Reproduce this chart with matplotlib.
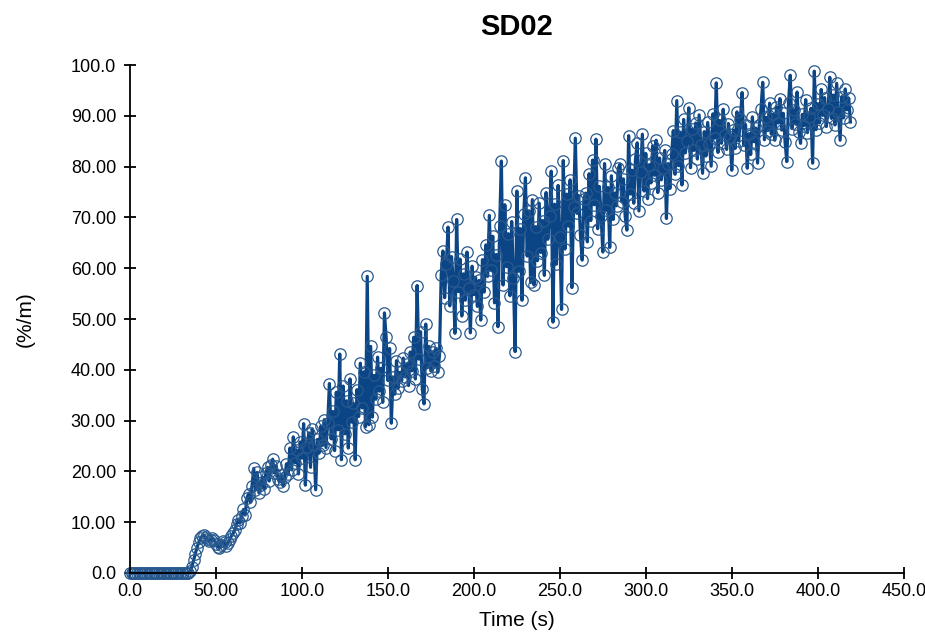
import matplotlib
matplotlib.use("Agg")
import matplotlib.pyplot as plt

# SD02 - values, one sample per second
time_s = list(range(0, 420))
sd02 = [
    0.0, 0.0, 0.0, 0.0, 0.0, 0.0, 0.0, 0.0, 0.0, 0.0,
    0.0, 0.0, 0.0, 0.0, 0.0, 0.0, 0.0, 0.0, 0.0, 0.0,
    0.0, 0.0, 0.0, 0.0, 0.0, 0.0, 0.0, 0.0, 0.0, 0.0,
    0.0, 0.0, 0.0, 0.0, 0.0,
    0.3, 1.2, 2.5, 3.8, 5.0, 6.0, 6.8, 7.2, 7.4, 7.1,
    6.6, 6.2, 6.5, 6.9, 6.4, 5.8, 5.2, 5.0, 5.6, 6.3,
    6.0, 5.4, 5.9, 6.6, 7.3, 7.8, 8.5, 9.6, 10.4, 9.8,
    11.2, 12.5, 11.4, 14.8, 15.6, 13.9, 17.2, 20.6, 16.4, 19.8,
    15.8, 17.4, 18.9, 16.5, 19.6, 20.8, 18.1, 21.3, 22.4, 19.7,
    21.0, 18.6, 17.9, 19.2, 17.2, 18.8, 21.5, 19.4, 24.6, 20.3,
    26.8, 21.7, 24.2, 19.5, 25.8, 22.6, 29.4, 17.3, 24.9, 27.6,
    20.8, 28.4, 25.2, 16.4, 26.3, 23.6, 28.9, 25.1, 30.2, 24.7,
    29.5, 37.3, 26.4, 31.8, 24.1, 35.6, 28.2, 43.1, 22.3, 36.8,
    27.4, 33.9, 24.6, 38.2, 29.7, 33.4, 22.3, 36.1, 30.8, 41.3,
    32.5, 39.6, 28.8, 58.4, 29.2, 44.6, 30.7, 38.9, 34.2, 42.5,
    35.8, 40.3, 33.6, 51.2, 46.4, 37.9, 44.2, 29.5, 38.6, 35.2,
    41.8, 36.4, 39.5, 37.8, 42.3, 38.6, 41.2, 36.9, 43.5, 39.8,
    46.4, 38.2, 56.6, 42.1, 47.5, 36.2, 33.3, 49.0, 40.4, 44.6,
    39.8, 43.5, 40.7, 44.2, 39.5, 42.8, 58.6, 63.4, 54.2, 60.8,
    68.1, 52.6, 62.3, 57.5, 47.2, 69.6, 55.4, 61.8, 50.6, 58.9,
    53.7, 63.2, 56.1, 47.3, 60.4, 54.8, 58.2, 52.5, 57.6, 49.8,
    61.7, 55.3, 64.6, 58.4, 70.4, 59.6, 66.3, 53.2, 62.7, 48.5,
    68.4, 81.1, 56.7, 72.5, 60.3, 66.8, 54.6, 69.2, 58.1, 43.6,
    75.2, 59.4, 67.8, 53.7, 70.6, 77.8, 62.4, 71.3, 57.2, 73.5,
    56.7, 68.2, 61.5, 72.8, 63.1, 69.4, 58.6, 74.9, 65.7, 70.2,
    79.1, 49.4, 72.6, 60.8, 76.3, 66.1, 51.9, 81.2, 63.8, 74.6,
    68.3, 77.4, 56.2, 72.1, 85.6, 70.8, 74.3, 66.5, 61.6, 73.7,
    74.8, 65.2, 78.6, 69.4, 81.3, 72.5, 85.4, 67.8, 76.1, 70.3,
    63.2, 80.6, 71.4, 75.9, 64.1, 78.2, 69.6, 74.8, 72.3, 79.7,
    80.5, 73.1, 77.6, 70.2, 67.5, 86.1, 74.6, 79.3, 72.8, 81.5,
    84.7, 71.3, 78.9, 86.4, 75.2, 82.6, 73.7, 80.4, 76.8, 84.1,
    78.3, 85.2, 74.9, 81.7, 77.4, 79.8, 83.2, 69.8, 80.6, 75.7,
    82.4, 87.1, 78.5, 93.0, 80.2, 86.8, 76.4, 89.3, 82.7, 85.1,
    91.6, 79.8, 87.4, 83.2, 88.6, 81.5, 90.2, 84.3, 78.7, 86.9,
    82.1, 88.7, 84.5, 80.1, 90.4, 85.6, 96.5, 82.8, 89.1, 84.6,
    91.3, 86.2, 83.4, 88.5, 85.9, 79.3, 87.2, 83.6, 90.8, 85.1,
    89.4, 94.6, 84.2, 88.3, 79.7, 86.5, 82.4, 89.8, 84.9, 87.6,
    80.7, 88.2, 91.4, 96.6, 85.3, 89.7, 87.1, 92.5, 86.4, 90.3,
    85.2, 91.8, 88.6, 93.4, 87.2, 90.5, 84.8, 81.0, 92.6, 98.0,
    87.5, 91.2, 88.4, 94.7, 86.9, 84.6, 90.3, 88.1, 93.2, 86.7,
    89.8, 91.5, 80.7, 98.8, 87.3, 92.4, 88.6, 95.2, 90.1, 93.6,
    87.9, 91.3, 97.6, 89.5, 94.1, 88.2, 96.4, 90.7, 85.2, 93.8,
    89.6, 95.3, 91.2, 93.5, 88.8,
]

x_ticks = [0, 50, 100, 150, 200, 250, 300, 350, 400, 450]
x_tick_labels = ["0.0", "50.00", "100.0", "150.0", "200.0", "250.0",
                 "300.0", "350.0", "400.0", "450.0"]
y_ticks = [0, 10, 20, 30, 40, 50, 60, 70, 80, 90, 100]
y_tick_labels = ["0.0", "10.00", "20.00", "30.00", "40.00", "50.00",
                 "60.00", "70.00", "80.00", "90.00", "100.0"]

plt.rcParams['font.family'] = ['Liberation Sans', 'DejaVu Sans']

fig = plt.figure(figsize=(9.25, 6.32), dpi=100)
ax = fig.add_axes([0.1405, 0.0934, 0.8365, 0.8036])

ax.plot(time_s[:len(sd02)], sd02, color='#0b4586', lw=2.3,
        marker='o', markersize=8.2, markerfacecolor='none',
        markeredgecolor='#28598f', markeredgewidth=0.9, clip_on=False)

ax.set_xlim(0, 450)
ax.set_ylim(0, 100)
ax.set_xticks(x_ticks)
ax.set_xticklabels(x_tick_labels)
ax.set_yticks(y_ticks)
ax.set_yticklabels(y_tick_labels)

for side in ('top', 'right'):
    ax.spines[side].set_visible(False)
for side in ('left', 'bottom'):
    ax.spines[side].set_linewidth(1.3)

ax.tick_params(direction='inout', length=8, width=1.3, labelsize=13, pad=3)
ax.tick_params(axis='y', pad=6)

ax.set_title("SD02", fontsize=21, fontweight='bold', pad=22)
ax.set_xlabel("Time (s)", fontsize=15, labelpad=8)
ax.set_ylabel("(%/m)", fontsize=15, labelpad=26)

fig.savefig("out.png", dpi=100)
